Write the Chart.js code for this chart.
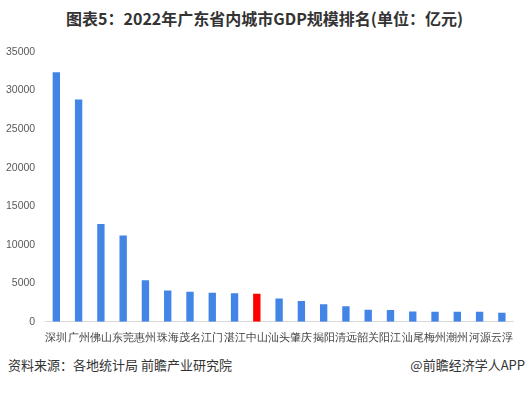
<!DOCTYPE html>
<html>
<head>
<meta charset="utf-8">
<script src="https://cdn.jsdelivr.net/npm/chart.js@4"></script>
<style>
  body { margin: 0; width: 529px; height: 393px; background: #fff; font-family: "Noto Sans CJK SC", "Liberation Sans", sans-serif; position: relative; overflow: hidden; }
  #title { position: absolute; left: 0; top: 6px; width: 529px; text-align: center; font-size: 16px; font-weight: bold; color: #333; }
  #box { position: absolute; left: 0; top: 40px; width: 529px; height: 307px; }
  #src { position: absolute; left: 8px; top: 355px; font-size: 13px; color: #333; }
  #app { position: absolute; right: 4px; top: 355px; font-size: 13px; color: #333; }
</style>
</head>
<body>
<div id="title">图表5：2022年广东省内城市GDP规模排名(单位：亿元)</div>
<div id="box"><canvas id="chart"></canvas></div>
<div id="src">资料来源：各地统计局 前瞻产业研究院</div>
<div id="app">@前瞻经济学人APP</div>
<script>
const cities = ['深圳', '广州', '佛山', '东莞', '惠州', '珠海', '茂名', '江门', '湛江', '中山', '汕头',
                '肇庆', '揭阳', '清远', '韶关', '阳江', '汕尾', '梅州', '潮州', '河源', '云浮'];
const gdp = [32388, 28839, 12698, 11200, 5401, 4045, 3904, 3773, 3712, 3631, 3017,
             2705, 2261, 2032, 1564, 1535, 1322, 1318, 1313, 1294, 1163];
const highlight = '中山';

const colors = cities.map(c => c == highlight ? '#ff0000' : '#4285e6');

const chart = document.querySelector('#chart').getContext('2d');

new Chart(chart, {
    type: 'bar',
    data: {
        labels: cities,
        datasets: [{
            data: gdp,
            backgroundColor: colors,
            barPercentage: 0.33,
            categoryPercentage: 1
        }]
    },
    options: {
        responsive: true,
        maintainAspectRatio: false,
        animation: false,
        layout: { padding: { top: 12, right: 16, left: 4 } },
        plugins: { legend: { display: false }, tooltip: { enabled: false } },
        scales: {
            x: {
                grid: { display: false },
                border: { color: '#d9d9d9' },
                ticks: { color: '#404040', font: { size: 11 }, maxRotation: 0, autoSkip: false, padding: 2 }
            },
            y: {
                min: 0,
                max: 35000,
                grid: { display: false },
                border: { display: false },
                ticks: { stepSize: 5000, color: '#595959', font: { size: 10.5 }, padding: 2,
                         callback: v => String(v) }
            }
        }
    }
})
</script>
</body>
</html>
